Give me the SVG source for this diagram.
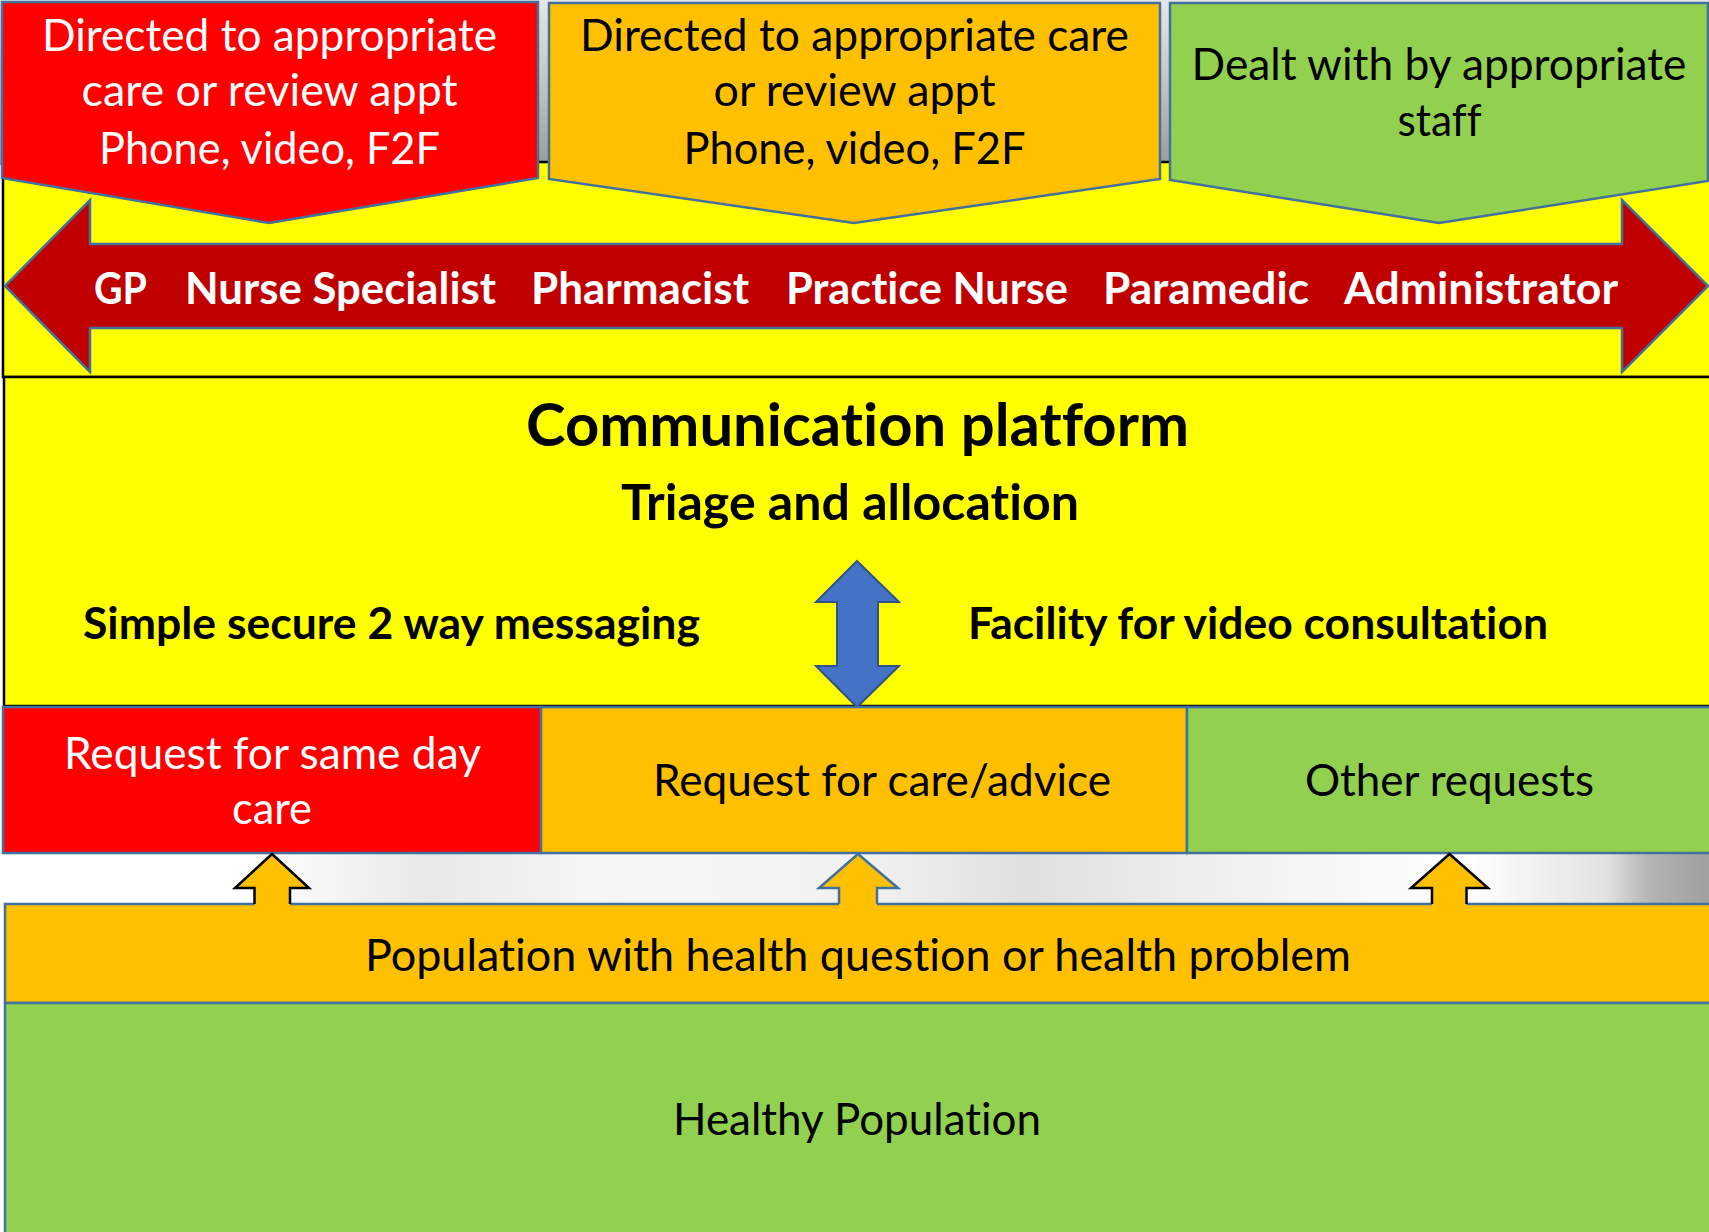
<svg xmlns="http://www.w3.org/2000/svg" width="1709" height="1232" viewBox="0 0 1709 1232">
  <defs>
    <linearGradient id="topBg" x1="0" y1="0" x2="0" y2="1">
      <stop offset="0" stop-color="#e6e6e6"/>
      <stop offset="0.5" stop-color="#c4c4c4"/>
      <stop offset="1" stop-color="#9c9c9c"/>
    </linearGradient>
    <linearGradient id="midBg" x1="0" y1="0" x2="1" y2="0">
      <stop offset="0" stop-color="#ffffff"/>
      <stop offset="0.15" stop-color="#ffffff"/>
      <stop offset="0.25" stop-color="#e8e8e8"/>
      <stop offset="0.35" stop-color="#f6f6f6"/>
      <stop offset="0.5" stop-color="#f2f2f2"/>
      <stop offset="0.6" stop-color="#e0e0e0"/>
      <stop offset="0.75" stop-color="#f4f4f4"/>
      <stop offset="0.86" stop-color="#ffffff"/>
      <stop offset="0.94" stop-color="#e2e2e2"/>
      <stop offset="0.965" stop-color="#b4b4b4"/>
      <stop offset="1" stop-color="#a0a0a0"/>
    </linearGradient>
    <style>
      .t { font-family: Lato, "Liberation Sans", sans-serif; font-size: 44px; text-anchor: middle; font-variant-ligatures: none; }
      .b { font-family: Lato, "Liberation Sans", sans-serif; font-size: 44px; font-weight: bold; text-anchor: middle; font-variant-ligatures: none; }
      .w { fill: #ffffff; }
      .k { fill: #000000; }
      .pent { stroke: #41719C; stroke-width: 2.5; }
      .box { stroke: #41719C; stroke-width: 2.5; }
      .ybox { fill: #FFFF00; stroke: #000000; stroke-width: 2.5; }
    </style>
  </defs>

  <!-- backgrounds -->
  <rect x="0" y="0" width="1709" height="165" fill="url(#topBg)"/>
  <rect x="0" y="850" width="1709" height="58" fill="url(#midBg)"/>

  <!-- yellow panels -->
  <g id="staff-panel">
    <rect class="ybox" x="3" y="162" width="1712" height="215"/>
  </g>

  <!-- outcome pentagons -->
  <g id="outcome-red">
    <polygon class="pent" fill="#FF0000" points="2,2 538,2 538,178 269,223 2,178"/>
    <text class="t w" x="269.5" y="51" textLength="455" lengthAdjust="spacingAndGlyphs">Directed to appropriate</text>
    <text class="t w" x="269.5" y="106" textLength="376" lengthAdjust="spacingAndGlyphs">care or review appt</text>
    <text class="t w" x="269.5" y="164" textLength="341" lengthAdjust="spacingAndGlyphs">Phone, video, F2F</text>
  </g>
  <g id="outcome-orange">
    <polygon class="pent" fill="#FFC000" points="549,3 1160,3 1160,179 854,223 549,179"/>
    <text class="t k" x="854.5" y="51" textLength="549" lengthAdjust="spacingAndGlyphs">Directed to appropriate care</text>
    <text class="t k" x="854.5" y="106" textLength="282" lengthAdjust="spacingAndGlyphs">or review appt</text>
    <text class="t k" x="854.5" y="164" textLength="342" lengthAdjust="spacingAndGlyphs">Phone, video, F2F</text>
  </g>
  <g id="outcome-green">
    <polygon class="pent" fill="#92D050" points="1170,3 1708,3 1708,181 1439,223 1170,180"/>
    <text class="t k" x="1439" y="80" textLength="495" lengthAdjust="spacingAndGlyphs">Dealt with by appropriate</text>
    <text class="t k" x="1439.5" y="136" textLength="84" lengthAdjust="spacingAndGlyphs">staff</text>
  </g>

  <!-- staff double arrow -->
  <g id="staff-arrow">
    <polygon fill="#C00000" stroke="#41719C" stroke-width="2.5" points="5,286 90,200 90,244 1622,244 1622,200 1708,286 1622,372 1622,328 90,328 90,372"/>
    <text class="b w" x="120.5" y="304" textLength="53" lengthAdjust="spacingAndGlyphs">GP</text>
    <text class="b w" x="340.5" y="304" textLength="311" lengthAdjust="spacingAndGlyphs">Nurse Specialist</text>
    <text class="b w" x="640" y="304" textLength="218" lengthAdjust="spacingAndGlyphs">Pharmacist</text>
    <text class="b w" x="927" y="304" textLength="282" lengthAdjust="spacingAndGlyphs">Practice Nurse</text>
    <text class="b w" x="1206" y="304" textLength="206" lengthAdjust="spacingAndGlyphs">Paramedic</text>
    <text class="b w" x="1481" y="304" textLength="274" lengthAdjust="spacingAndGlyphs">Administrator</text>
  </g>

  <!-- communication platform -->
  <g id="communication-platform">
    <rect class="ybox" x="4" y="377" width="1712" height="329"/>
    <text class="b k" x="857.5" y="446" style="font-size:60px" textLength="663" lengthAdjust="spacingAndGlyphs">Communication platform</text>
    <text class="b k" x="850" y="520" style="font-size:50px" textLength="458" lengthAdjust="spacingAndGlyphs">Triage and allocation</text>
    <text class="b k" x="391.5" y="639" textLength="617" lengthAdjust="spacingAndGlyphs">Simple secure 2 way messaging</text>
    <text class="b k" x="1258" y="639" textLength="580" lengthAdjust="spacingAndGlyphs">Facility for video consultation</text>
  </g>

  <g id="two-way-arrow">
    <polygon fill="#4472C4" stroke="#2F528F" stroke-width="2" points="857,561 899,602 878,602 878,666 899,666 857,707 816,666 837,666 837,602 816,602"/>
  </g>

  <!-- request boxes -->
  <g id="request-same-day">
    <rect class="box" fill="#FF0000" x="3" y="707" width="538" height="146"/>
    <text class="t w" x="272.5" y="769" textLength="417" lengthAdjust="spacingAndGlyphs">Request for same day</text>
    <text class="t w" x="272" y="824" textLength="80" lengthAdjust="spacingAndGlyphs">care</text>
  </g>
  <g id="request-care-advice">
    <rect class="box" fill="#FFC000" x="541" y="707" width="646" height="146"/>
    <text class="t k" x="882" y="796" textLength="458" lengthAdjust="spacingAndGlyphs">Request for care/advice</text>
  </g>
  <g id="request-other">
    <rect class="box" fill="#92D050" x="1187" y="707" width="530" height="146"/>
    <text class="t k" x="1449.5" y="796" textLength="289" lengthAdjust="spacingAndGlyphs">Other requests</text>
  </g>

  <!-- population boxes -->
  <g id="population-problem">
    <rect class="box" fill="#FFC000" x="5" y="904" width="1712" height="99"/>
    <text class="t k" x="858" y="971" textLength="986" lengthAdjust="spacingAndGlyphs">Population with health question or health problem</text>
  </g>
  <g id="healthy-population">
    <rect class="box" fill="#92D050" x="5" y="1003" width="1712" height="240"/>
    <text class="t k" x="857" y="1135" textLength="368" lengthAdjust="spacingAndGlyphs">Healthy Population</text>
  </g>

  <!-- connectors: up arrows -->
  <g id="connectors">
    <g id="arrow-same-day">
      <polygon fill="#FFC000" points="272,854 309,888 290,888 290,906 254.5,906 254.5,888 235,888"/>
      <polyline fill="none" stroke="#000000" stroke-width="2.5" points="254.5,904 254.5,888 235,888 272,854 309,888 290,888 290,904"/>
    </g>
    <g id="arrow-care-advice">
      <polygon fill="#FFC000" points="858,854 898,888 877,888 877,906 839,906 839,888 819,888"/>
      <polyline fill="none" stroke="#41719C" stroke-width="2.5" points="839,904 839,888 819,888 858,854 898,888 877,888 877,904"/>
    </g>
    <g id="arrow-other">
      <polygon fill="#FFC000" points="1449.5,854 1488,888 1466.5,888 1466.5,906 1432,906 1432,888 1411,888"/>
      <polyline fill="none" stroke="#000000" stroke-width="2.5" points="1432,904 1432,888 1411,888 1449.5,854 1488,888 1466.5,888 1466.5,904"/>
    </g>
  </g>
</svg>
